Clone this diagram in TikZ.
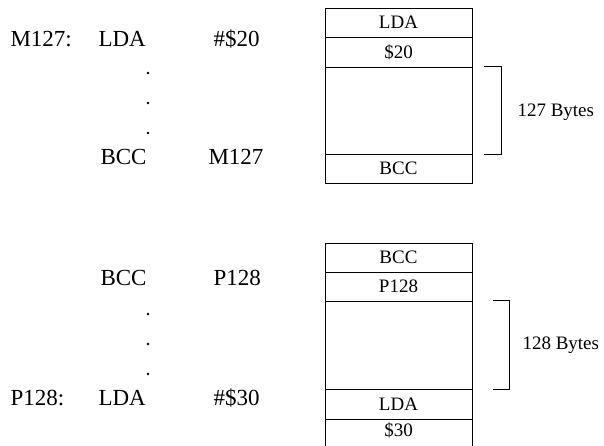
\documentclass[tikz,border=0pt]{standalone}
\usepackage{fontspec}
\setmainfont{Liberation Serif}
\begin{document}
\begin{tikzpicture}[x=1pt, y=-1pt, line width=1pt, font=\fontsize{23}{27}\selectfont,
	cell/.style={draw, minimum width=147pt, inner sep=0pt, font=\fontsize{19}{22}\selectfont},
	asm/.style={anchor=base west, inner sep=0pt},
	brace/.style={font=\fontsize{19}{22}\selectfont, anchor=west, inner sep=0pt}]
	\useasboundingbox (0,0) rectangle (604,445);
	% program listing
	\node[asm] (lab1) at (10,46) {M127:};
	\node[asm] (op1) at (98,46) {LDA};
	\node[asm] (arg1) at (213,46) {\#\$20};
	\node[asm] (op2) at (100,164) {BCC};
	\node[asm] (arg2) at (208,164) {M127};
	\node[asm] (op3) at (100,285) {BCC};
	\node[asm] (arg3) at (213,285) {P128};
	\node[asm] (lab4) at (10,405) {P128:};
	\node[asm] (op4) at (98,405) {LDA};
	\node[asm] (arg4) at (213,405) {\#\$30};
	\fill (148,73) circle(1.4) (148,103) circle(1.4) (148,133) circle(1.4);
	\fill (148,314) circle(1.4) (148,344) circle(1.4) (148,374) circle(1.4);
	% memory, backward branch
	\node[cell, minimum height=29pt] (a1) at (398.5,22.5) {LDA};
	\node[cell, minimum height=30pt] (a2) at (398.5,52) {\$20};
	\node[cell, minimum height=87pt] (a3) at (398.5,110.5) {};
	\node[cell, minimum height=29pt] (a4) at (398.5,168.5) {BCC};
	\draw ([xshift=11pt]a3.north east) -| ([xshift=29pt]a3.south east) -- ([xshift=11pt]a3.south east);
	\node[brace] (b1) at (517,112) {127 Bytes};
	% memory, forward branch
	\node[cell, minimum height=29pt] (c1) at (398.5,257.5) {BCC};
	\node[cell, minimum height=29pt] (c2) at (398.5,286.5) {P128};
	\node[cell, minimum height=88pt] (c3) at (398.5,345) {};
	\node[cell, minimum height=30pt] (c4) at (398.5,404) {LDA};
	\node[cell, minimum height=30pt, text depth=8pt] (c5) at (398.5,434) {\$30};
	\draw ([xshift=20pt]c3.north east) -| ([xshift=37pt]c3.south east) -- ([xshift=20pt]c3.south east);
	\node[brace] (b2) at (522,345) {128 Bytes};
\end{tikzpicture}
\end{document}
